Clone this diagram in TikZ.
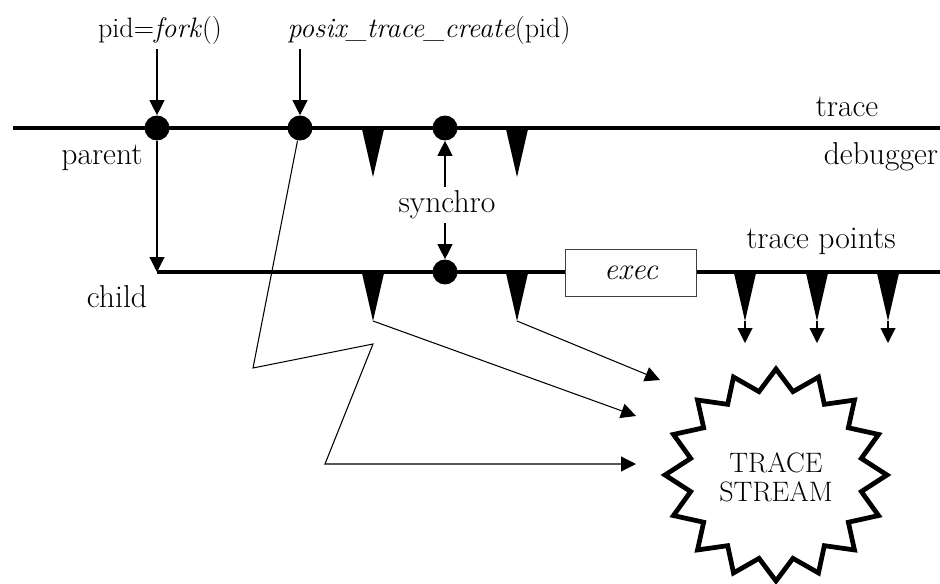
\documentclass[tikz,border=0pt]{standalone}
\usetikzlibrary{arrows.meta}
\begin{document}
\begin{tikzpicture}[x=0.02cm,y=-0.02cm,
  lbl/.style={font=\fontsize{18}{21}\selectfont, inner sep=2pt},
  toplbl/.style={font=\fontsize{16}{19}\selectfont, inner sep=2pt},
  thickline/.style={line width=2.8pt},
  thinline/.style={line width=0.6pt},
  arr/.style={thinline, -{Triangle[length=8.5pt,width=8.5pt]}},
  dot/.style={circle, fill, minimum size=14.2pt, inner sep=0pt},
  tpoint/.pic={\fill (-11.5,-1) -- (11.5,-1) -- (0,49) -- cycle; \coordinate (-tip) at (0,49);}
]
\useasboundingbox (0,0) rectangle (940,584);

% time lines
\coordinate (pl0) at (13,128);
\coordinate (pl1) at (940,128);
\coordinate (cl0) at (157,272);
\coordinate (cl1) at (940,272);
\draw[thickline] (pl0) -- (pl1);
\draw[thickline] (cl0) -- (cl1);

% trace points
\pic (ta) at (373,128) {tpoint};
\pic (tb) at (517,128) {tpoint};
\pic (tc) at (373,272) {tpoint};
\pic (td) at (517,272) {tpoint};
\pic (te) at (745,272) {tpoint};
\pic (tf) at (817,272) {tpoint};
\pic (tg) at (888,272) {tpoint};

% dots
\node[dot] (f) at (157,128) {};
\node[dot] (p) at (300,128) {};
\node[dot] (s1) at (445,128) {};
\node[dot] (s2) at (445,272) {};

% exec box
\node[draw=black!75, fill=white, thinline, minimum width=74.8pt, minimum height=27.2pt,
      inner sep=2pt, font=\fontsize{17.5}{20}\selectfont\itshape] (ex) at (631,273) {exec};

% labels
\node[toplbl, anchor=base] (pidf) at (160,38) {pid=\textit{fork}()};
\node[toplbl, anchor=base] (pos) at (429,38) {\textit{posix\_trace\_create}(pid)};
\node[lbl, anchor=base] (tr) at (847,117) {trace};
\node[lbl, anchor=base east] (dbg) at (942,165) {debugger};
\node[lbl, anchor=base] (par) at (102,165) {parent};
\node[lbl, anchor=base] (chi) at (117,308) {child};
\node[lbl, anchor=base] (syn) at (447,213) {synchro};
\node[lbl, anchor=base] (tpts) at (821,249) {trace points};

% arrows
\draw[arr] (f |- pidf.south) -- (f);
\draw[arr] (p |- pos.south) -- (p);
\draw[arr] (f) -- (cl0);
\draw[arr] (s1 |- syn.north) -- (s1);
\draw[arr] (s2 |- syn.south) -- (s2);

% to the trace stream
\coordinate (e1) at (660,380);
\coordinate (e2) at (636,416);
\coordinate (z1) at (253,368);
\coordinate (z2) at (373,344);
\coordinate (z3) at (325,464);
\coordinate (e3) at (636,464);
\draw[arr] (td-tip) -- (e1);
\draw[arr] (tc-tip) -- (e2);
\draw[arr] (p) -- (z1) -- (z2) -- (z3) -- (e3);

\coordinate (d1) at (745,343);
\coordinate (d2) at (817,343);
\coordinate (d3) at (888,343);
\draw[arr] (te-tip) -- (d1);
\draw[arr] (tf-tip) -- (d2);
\draw[arr] (tg-tip) -- (d3);

% trace stream star
\draw[line width=2.7pt, line join=miter]
  (887,475)
  \foreach \k in {0,...,14}{
    -- ({776+87*cos(\k*22.5+11.25)},{475+85*sin(\k*22.5+11.25)})
    -- ({776+111*cos((\k+1)*22.5)},{475+106*sin((\k+1)*22.5)})
  }
  -- ({776+87*cos(348.75)},{475+85*sin(348.75)}) -- cycle;
\node[font=\fontsize{16}{16.5}\selectfont, align=center, inner sep=0pt] (ts) at (776,477) {TRACE\\STREAM};
\end{tikzpicture}
\end{document}
